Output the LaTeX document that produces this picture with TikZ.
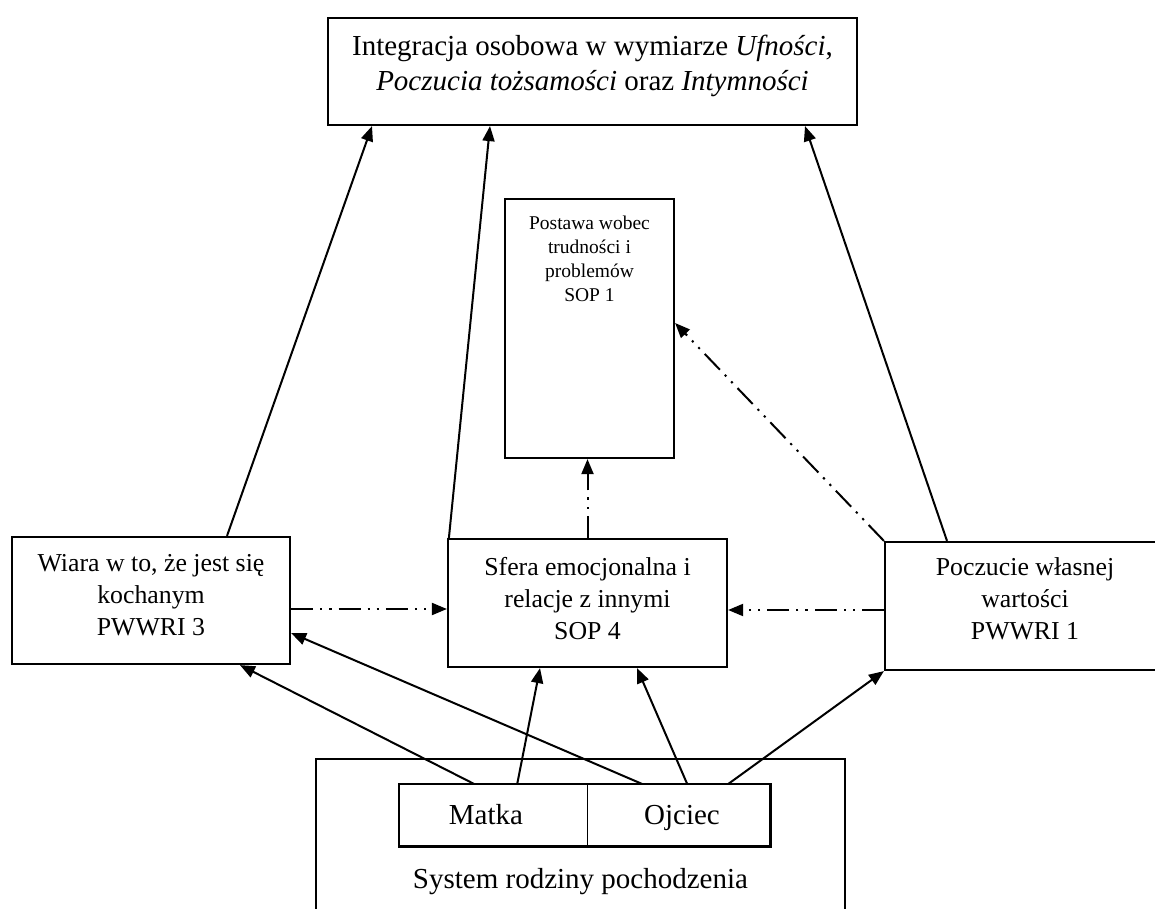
\documentclass[tikz,border=0pt]{standalone}
\usepackage{fontspec}
\setmainfont{Liberation Serif}
\usetikzlibrary{arrows.meta,calc}

\begin{document}
\begin{tikzpicture}[x=1pt,y=1pt,
  box/.style={draw, line width=2.2pt, inner sep=0pt},
  cell/.style={inner sep=0pt},
  lbl/.style={align=center, inner sep=0pt},
  big/.style={font=\fontsize{29}{35}\selectfont},
  mid/.style={font=\fontsize{25.8}{32}\selectfont},
  small/.style={font=\fontsize{19.5}{24}\selectfont},
  conn/.style={line width=2pt, -{Triangle[length=15pt,width=12pt]}},
  dconn/.style={conn, dash pattern=on 22pt off 7pt on 2.2pt off 7pt on 2.2pt off 7pt},
]
\useasboundingbox (0,0) rectangle (1155,908);
\begin{scope}
\clip (0,0) rectangle (1155,908);

% boxes
\node[box, minimum width=529pt, minimum height=107pt] (top) at (592.5,836.5) {};
\node[box, minimum width=169pt, minimum height=259pt] (sop) at (589.5,579.5) {};
\node[box, minimum width=278pt, minimum height=127pt] (wiara) at (151,307.5) {};
\node[box, minimum width=279pt, minimum height=128pt] (sfera) at (587.5,305) {};
\node[box, minimum width=280pt, minimum height=128pt] (pw) at (1025,302) {};
\node[box, minimum width=529pt, minimum height=200pt, anchor=north] (fam) at (580.5,150) {};

% parents
\node[cell, minimum width=188pt, minimum height=62pt, anchor=north west] (matka) at (399,124) {};
\node[cell, minimum width=183pt, minimum height=62pt, anchor=north west] (ojciec) at (587,124) {};
\draw[line width=2.2pt, fill=white] (matka.north west) rectangle (ojciec.south east);
\draw[line width=1pt] (matka.north east) -- (matka.south east);

% texts
\node[lbl, big] (ttop) at (592.5,842) {Integracja osobowa w wymiarze \textit{Ufności},\\\textit{Poczucia tożsamości} oraz \textit{Intymności}};
\node[lbl, small, anchor=north] (tsop) at (589.5,692) {Postawa wobec\\trudności i\\problemów\\SOP 1};
\node[lbl, mid] (twiara) at (151,313) {Wiara w to, że jest się\\kochanym\\PWWRI 3};
\node[lbl, mid] (tsfera) at (587.5,309) {Sfera emocjonalna i\\relacje z innymi\\SOP 4};
\node[lbl, mid] (tpw) at (1025,309) {Poczucie własnej\\wartości\\PWWRI 1};
\node[lbl, big, anchor=base] (tmatka) at (486,83.5) {Matka};
\node[lbl, big, anchor=base] (tojciec) at (682,83.5) {Ojciec};
\node[lbl, big] (tfam) at (580.5,26) {System rodziny pochodzenia};

% solid connectors
\draw[conn] ([xshift=76pt]wiara.north) -- ([xshift=-220.5pt]top.south);
\draw[conn] ([xshift=2pt]sfera.north west) -- ([xshift=-102.5pt]top.south);
\draw[conn] ([xshift=-78pt]pw.north) -- ([xshift=212.5pt]top.south);
\draw[conn] ([xshift=-19pt]matka.north) -- ([xshift=89pt]wiara.south);
\draw[conn] ([xshift=24pt]matka.north) -- ([xshift=-47.5pt]sfera.south);
\draw[conn] ([xshift=-36.5pt]ojciec.north) -- ([yshift=-32.5pt]wiara.east);
\draw[conn] ([xshift=8.5pt]ojciec.north) -- ([xshift=49.5pt]sfera.south);
\draw[conn] ([xshift=49.5pt]ojciec.north) -- (pw.south west);

% dash-dot-dot connectors
\draw[dconn] ([yshift=-8.5pt]wiara.east) coordinate (d1) -- (d1 -| sfera.west);
\draw[dconn] ([yshift=-4pt]pw.west) coordinate (d2) -- (d2 -| sfera.east);
\draw[dconn] (sfera.north) -- (sfera.north |- sop.south);
\draw[dconn] (pw.north west) -- ([yshift=5.5pt]sop.east);
\end{scope}
\end{tikzpicture}
\end{document}
